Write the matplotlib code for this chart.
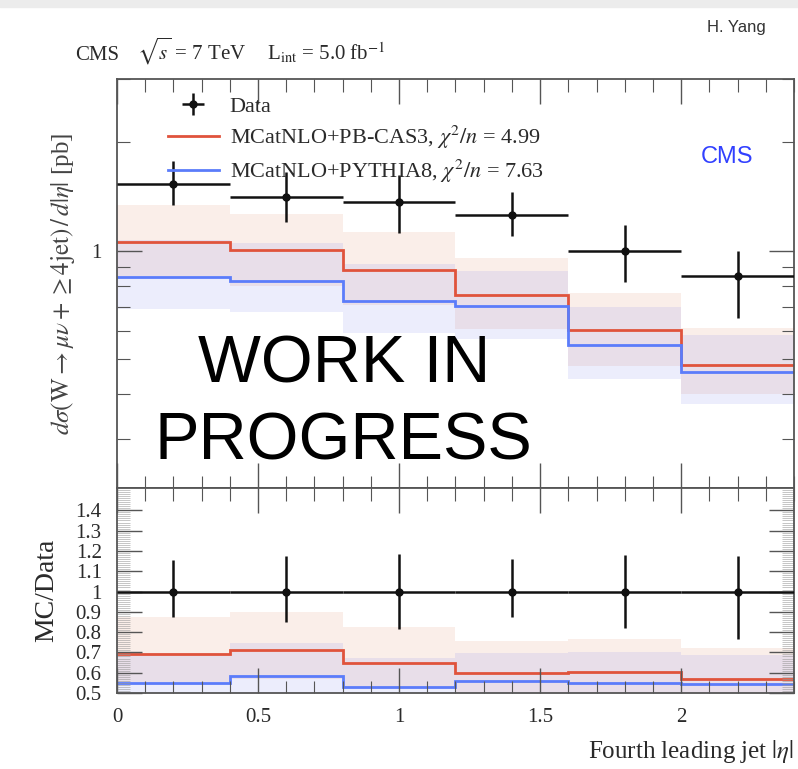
import numpy as np
import matplotlib
matplotlib.use('Agg')
import matplotlib.pyplot as plt
from matplotlib.lines import Line2D
from matplotlib.patches import Rectangle

plt.rcParams['font.family'] = ['Liberation Serif', 'DejaVu Serif']
plt.rcParams['mathtext.fontset'] = 'stix'

# fourth jet |eta| bins
eta_edges = np.array([0.0, 0.4, 0.8, 1.2, 1.6, 2.0, 2.4])

# measured cross section [pb] and asymmetric errors
data_xsec = np.array([1.535, 1.41, 1.37, 1.26, 1.00, 0.85])
data_err_up = np.array([0.24, 0.25, 0.25, 0.20, 0.18, 0.15])
data_err_dn = np.array([0.19, 0.21, 0.25, 0.16, 0.18, 0.20])

# MCatNLO + PB-CAS3 prediction with uncertainty band
pbcas3 = np.array([1.06, 1.005, 0.888, 0.755, 0.604, 0.484])
pbcas3_lo = np.array([0.85, 0.80, 0.71, 0.607, 0.48, 0.40])
pbcas3_hi = np.array([1.34, 1.27, 1.13, 0.955, 0.765, 0.613])

# MCatNLO + PYTHIA8 prediction with uncertainty band
pythia8 = np.array([0.845, 0.825, 0.726, 0.705, 0.547, 0.462])
pythia8_lo = np.array([0.69, 0.677, 0.592, 0.57, 0.44, 0.376])
pythia8_hi = np.array([1.07, 1.05, 0.92, 0.88, 0.70, 0.585])

chi2_pbcas3 = 4.99
chi2_pythia8 = 7.63

red = '#e0533c'
blue = '#5b7cfa'
red_band = (0.88, 0.55, 0.40, 0.14)
blue_band = (0.40, 0.42, 0.92, 0.12)
frame_col = '#555555'
txt_col = '#2a2a2a'

centers = 0.5 * (eta_edges[1:] + eta_edges[:-1])
half_w = 0.5 * np.diff(eta_edges)

fig = plt.figure(figsize=(7.98, 7.69), dpi=100)
fig.patches.append(Rectangle((0, 0.991), 1, 0.009, transform=fig.transFigure,
                             color='#ececec', zorder=0))

ax = fig.add_axes([0.1466, 0.3654, 0.8484, 0.5319])
rax = fig.add_axes([0.1466, 0.0988, 0.8484, 0.2666], sharex=ax)

# upper panel: cross sections
ax.stairs(pbcas3_hi, eta_edges, baseline=pbcas3_lo, fill=True, color=red_band, lw=0)
ax.stairs(pythia8_hi, eta_edges, baseline=pythia8_lo, fill=True, color=blue_band, lw=0)
ax.stairs(pbcas3, eta_edges, baseline=None, color=red, lw=2)
ax.stairs(pythia8, eta_edges, baseline=None, color=blue, lw=2)
eb = ax.errorbar(centers, data_xsec, xerr=half_w, yerr=[data_err_dn, data_err_up],
                 fmt='o', color='#111111', ms=5, elinewidth=1.8, capsize=0, zorder=5)

ax.set_yscale('log')
ax.set_ylim(0.22, 3.0)
ax.set_xlim(0, 2.4)
ax.set_yticks([1])
ax.set_yticklabels(['1'])
ax.set_yticks([0.3, 0.4, 0.5, 0.6, 0.7, 0.8, 0.9, 2, 3], minor=True)
ax.yaxis.set_minor_formatter(plt.NullFormatter())
ax.set_ylabel(r'$d\sigma(\mathrm{W} \rightarrow \mu\nu + \geq 4\mathrm{jet})\,/\,d|\eta|$ [pb]',
              fontsize=18, color='#444444', labelpad=10)
ax.tick_params(axis='x', labelbottom=False)

handles = [eb,
           Line2D([], [], color=red, lw=2),
           Line2D([], [], color=blue, lw=2)]
labels = ['Data',
          r'MCatNLO+PB-CAS3, $\chi^2/n$ = %.2f' % chi2_pbcas3,
          r'MCatNLO+PYTHIA8, $\chi^2/n$ = %.2f' % chi2_pythia8]
leg = ax.legend(handles, labels, loc='upper left', bbox_to_anchor=(0.055, 0.99),
                frameon=False, fontsize=16, handlelength=2.3, handletextpad=0.5,
                labelspacing=0.3, borderaxespad=0.2)
for t in leg.get_texts():
    t.set_color(txt_col)

ax.text(0.94, 0.81, 'CMS', transform=ax.transAxes, ha='right', va='center',
        fontsize=17, color='#3140ff', family='Liberation Sans')

ax.text(0.335, 0.205, 'WORK IN\nPROGRESS', transform=ax.transAxes, ha='center',
        va='center', fontsize=48, color='black', family='Liberation Sans',
        linespacing=1.32, zorder=10)

# lower panel: MC / data
rax.stairs(pbcas3_hi / data_xsec, eta_edges, baseline=pbcas3_lo / data_xsec,
           fill=True, color=red_band, lw=0)
rax.stairs(pythia8_hi / data_xsec, eta_edges, baseline=pythia8_lo / data_xsec,
           fill=True, color=blue_band, lw=0)
rax.stairs(pbcas3 / data_xsec, eta_edges, baseline=None, color=red, lw=2)
rax.stairs(pythia8 / data_xsec, eta_edges, baseline=None, color=blue, lw=2)
rax.errorbar(centers, data_xsec / data_xsec, xerr=half_w,
             yerr=[data_err_dn / data_xsec, data_err_up / data_xsec],
             fmt='o', color='#111111', ms=5, elinewidth=1.8, capsize=0, zorder=5)

rax.set_ylim(0.5, 1.51)
ratio_ticks = np.round(np.arange(0.5, 1.45, 0.1), 1)
rax.set_yticks(ratio_ticks)
rax.set_yticklabels(['%g' % v for v in ratio_ticks])
rax.set_yticks(np.arange(0.5, 1.51, 0.01), minor=True)
rax.set_xticks([0, 0.5, 1, 1.5, 2])
rax.set_xticklabels(['0', '0.5', '1', '1.5', '2'])
rax.set_xticks(np.arange(0, 2.41, 0.1), minor=True)
rax.set_ylabel('MC/Data', fontsize=20, color=txt_col, labelpad=12)
rax.set_xlabel(r'Fourth leading jet $|\eta|$', fontsize=18, color=txt_col,
               loc='right', labelpad=8)

for a in (ax, rax):
    for s in a.spines.values():
        s.set_color(frame_col)
        s.set_linewidth(1.3)
    a.tick_params(which='both', direction='in', top=True, right=True,
                  color=frame_col, labelcolor=txt_col, labelsize=15, pad=11)
    a.tick_params(which='major', length=18, width=1.0)
    a.tick_params(which='minor', length=9, width=0.8)
rax.tick_params(axis='y', which='minor', length=9, width=0.4, color='#999999')
ax.tick_params(axis='y', which='minor', length=9)

# header line
fig.text(0.094, 0.922, 'CMS', fontsize=15, color=txt_col)
fig.text(0.172, 0.922, r'$\sqrt{s}$ = 7 TeV', fontsize=15, color=txt_col)
fig.text(0.335, 0.922, r'L$_{\mathrm{int}}$ = 5.0 fb$^{-1}$', fontsize=15, color=txt_col)
fig.text(0.96, 0.958, 'H. Yang', fontsize=12, color='#333333', ha='right',
         family='Liberation Sans')

fig.savefig('out.png', dpi=100)
